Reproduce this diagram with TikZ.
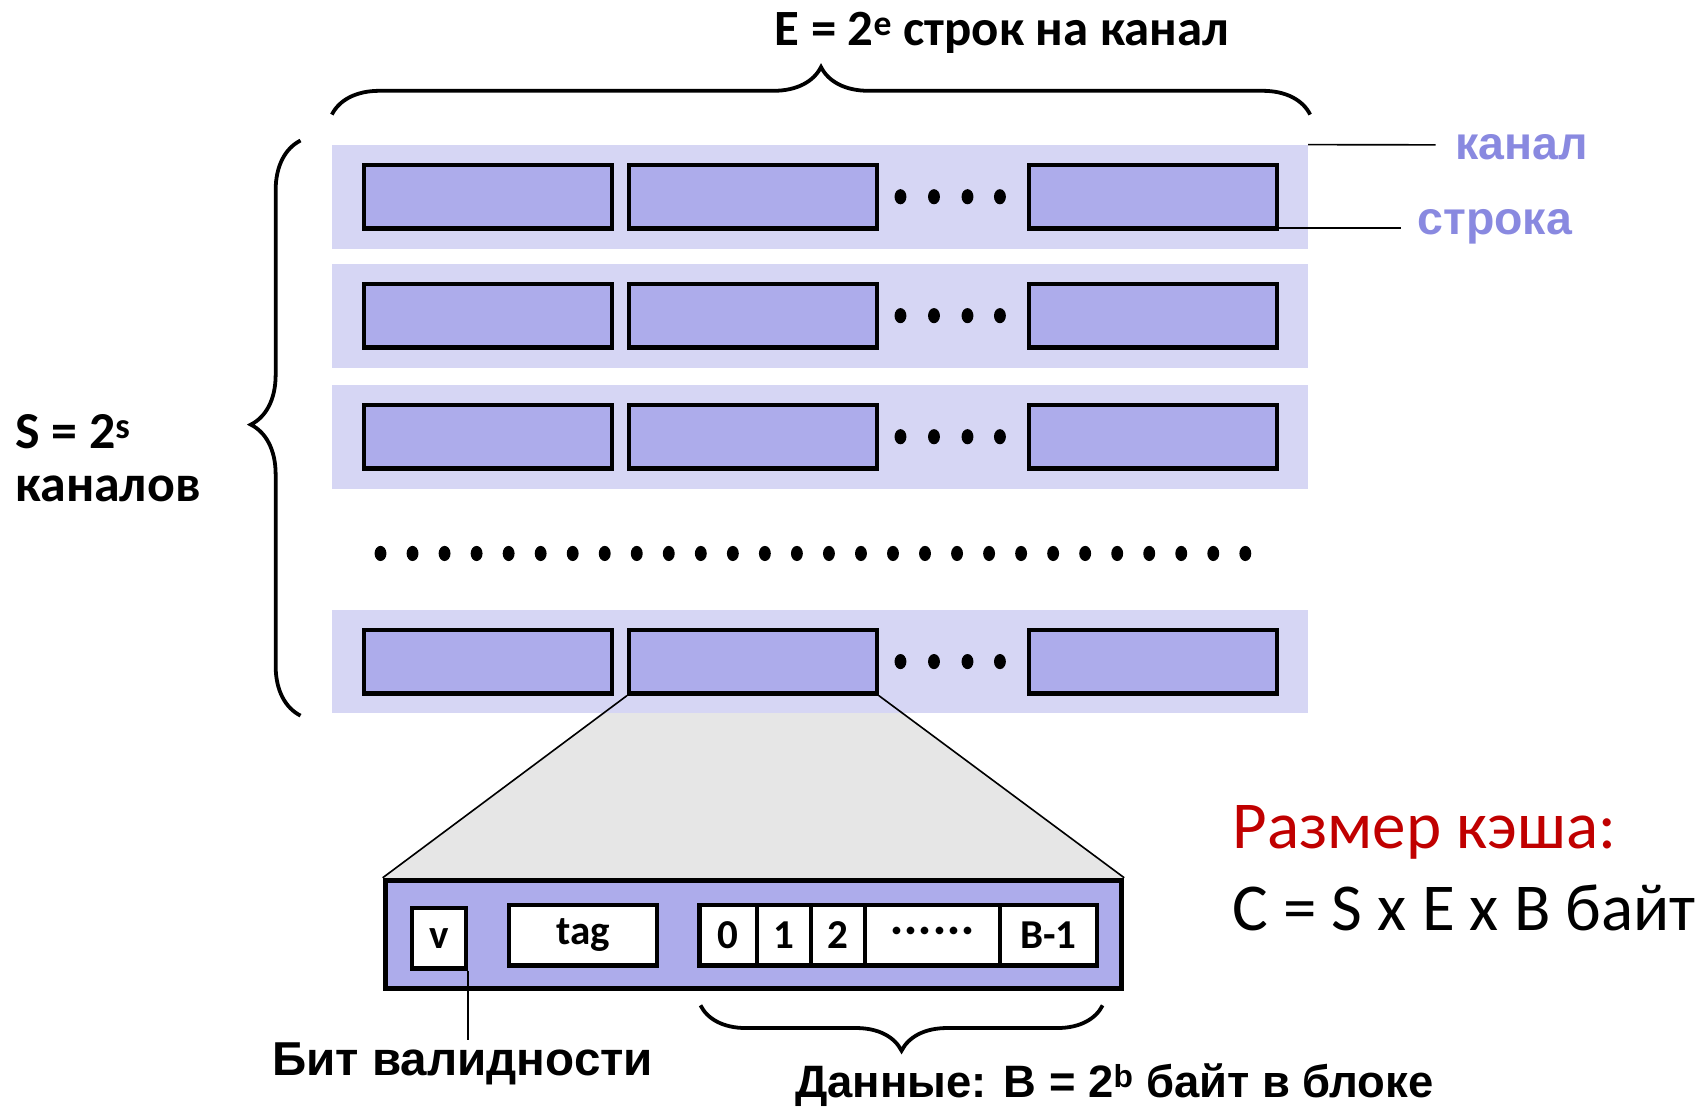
\documentclass[tikz,border=0pt]{standalone}
\usepackage{fontspec}
\setmainfont{Liberation Sans}
\newfontfamily\ab{Liberation Sans Bold}
\newfontfamily\cb{Carlito}
\usetikzlibrary{decorations.pathreplacing}
\definecolor{bandc}{RGB}{214,214,244}
\definecolor{blkc}{RGB}{173,172,235}
\definecolor{labelc}{RGB}{137,137,224}
\definecolor{redc}{RGB}{192,0,0}
\definecolor{zoomc}{RGB}{230,230,230}
\pgfdeclarelayer{bg}
\pgfsetlayers{bg,main}
\begin{document}
\begin{tikzpicture}[x=1pt,y=-1pt,
  band/.style={fill=bandc, draw=none, minimum width=903pt, minimum height=96pt, inner sep=0pt},
  blk/.style={fill=blkc, draw=black, line width=4pt, minimum width=229pt, minimum height=59pt, inner sep=0pt},
  cell/.style={fill=white, draw=black, line width=4pt, minimum height=56pt, inner sep=0pt, font=\cb\bfseries\fontsize{38}{42}\selectfont},
  bigbox/.style={fill=blkc, draw=black, line width=5pt, minimum width=681pt, minimum height=100pt, inner sep=0pt},
  dot/.style={fill=black},
  bracestyle/.style={decorate, line width=3.5pt},
  lead/.style={line width=1.5pt},
  ttl/.style={font=\cb\bfseries\fontsize{47}{52}\selectfont, inner sep=0pt},
  abt/.style={font=\ab\fontsize{43}{48}\selectfont, inner sep=0pt},
  lbl/.style={font=\ab\fontsize{43}{48}\selectfont, text=labelc, inner sep=0pt},
  cal/.style={font=\cb\fontsize{62}{70}\selectfont, inner sep=0pt, anchor=west}
]
\useasboundingbox (0,0) rectangle (1568,1028);

% sets
\foreach \i/\y in {1/182,2/292,3/404,4/612}{
  \node[band] (s\i) at (758.5,\y) {};
  \node[blk] (b\i1) at (451.5,\y) {};
  \node[blk] (b\i2) at (696.5,\y) {};
  \node[blk] (b\i3) at (1066.5,\y) {};
  \foreach \x in {833,864,895,925} \fill[dot] (\x,\y) ellipse (5.5pt and 7pt);
}
\foreach \k in {0,...,27} \fill[dot] ({352+\k*29.63},512) ellipse (5.5pt and 7pt);

% top brace and title
\coordinate (tl) at (307,106);
\coordinate (tr) at (1212,106);
\draw[bracestyle, decoration={brace, amplitude=44pt, aspect=0.5}] (tl) -- (tr);
\node[ttl] (title) at (927,30) {E = 2\textsuperscript{e} строк на канал};

% left brace and label
\coordinate (lb) at (278,662);
\coordinate (lt) at (278,130);
\draw[bracestyle, decoration={brace, amplitude=46pt, aspect=0.506}] (lb) -- (lt);
\node[ttl, font=\cb\bfseries\fontsize{48}{52}\selectfont, anchor=west] (S1) at (14,399) {S = 2\textsuperscript{s}};
\node[ttl, font=\cb\bfseries\fontsize{48}{52}\selectfont, anchor=west] (S2) at (14,452) {каналов};

% labels right
\node[lbl, anchor=west] (kanal) at (1346,136) {канал};
\node[lbl, anchor=west] (stroka) at (1311,210) {строка};
\coordinate (kend) at (1328,134);
\coordinate (send) at (1296,211);
\coordinate (sstart) at ([yshift=2.5pt]b13.south east);
\draw[lead] (s1.north east) -- (kend);
\draw[lead] (sstart) -- (sstart -| send);

% zoomed line
\node[bigbox] (line) at (697,864.5) {};
\begin{pgfonlayer}{bg}
  \fill[zoomc] (b42.south west) -- (b42.south east) -- (line.north east) -- (line.north west) -- cycle;
\end{pgfonlayer}
\draw[lead] (b42.south west) -- (line.north west);
\draw[lead] (b42.south east) -- (line.north east);

\node[cell, minimum width=50pt] (v) at (406,868) {v};
\node[cell, minimum width=137pt] (tag) at (539.5,865) {\raisebox{-3pt}{tag}};
\node[cell, minimum width=53pt] (c0) at (673.5,865) {0};
\node[cell, minimum width=50pt] (c1) at (725,865) {1};
\node[cell, minimum width=50pt] (c2) at (775,865) {2};
\node[cell, minimum width=125pt] (cd) at (862.5,865) {·\hspace{3pt}·\hspace{3pt}·\hspace{3pt}·\hspace{3pt}·\hspace{3pt}·};
\node[cell, minimum width=90pt] (cb) at (970,865) {B-1};

% validity bit
\coordinate (vend) at (433,962);
\draw[lead] (v.south east) -- (v.south east |- vend);
\node[abt, font=\ab\fontsize{44}{48}\selectfont] (valid) at (428,984) {Бит валидности};

% data brace
\coordinate (dr) at (1020,930);
\coordinate (dl) at (648,930);
\draw[bracestyle, decoration={brace, amplitude=42pt, aspect=0.5}] (dr) -- (dl);
\node[abt, font=\ab\fontsize{42}{46}\selectfont] (data) at (1031,1004) {Данные: B = 2\textsuperscript{b} байт в блоке};

% cache size
\node[cal, text=redc] (size1) at (1140,770) {Размер кэша:};
\node[cal] (size2) at (1140,840) {C = S x E x B байт};
\end{tikzpicture}
\end{document}
